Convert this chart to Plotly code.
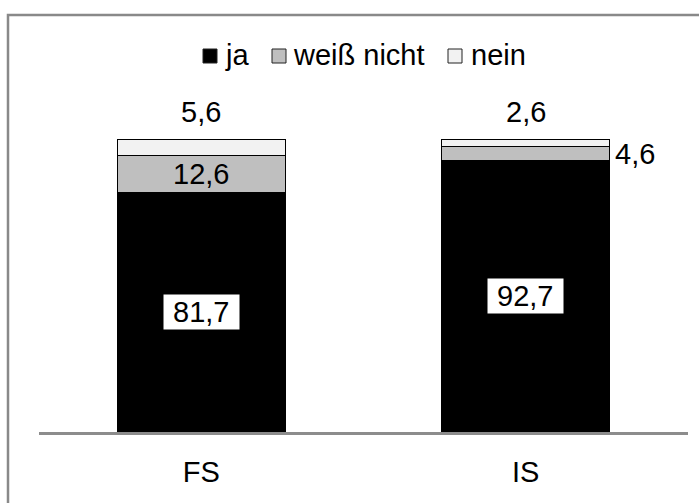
import plotly.graph_objects as go

# Stacked shares (%) per group
categories = ["FS", "IS"]
series_names = ["ja", "weiß nicht", "nein"]
ja = [81.7, 92.7]
weiss_nicht = [12.6, 4.6]
nein = [5.6, 2.6]
series_values = [ja, weiss_nicht, nein]
series_colors = ["#000000", "#bfbfbf", "#f2f2f2"]

W, H = 699, 503
ML, MR, MT, MB = 39, 11, 139, 71
PW, PH = W - ML - MR, H - MT - MB
FONT = "Liberation Sans, Arial, sans-serif"
FS = 29
BAR_W = 0.518


def fmt(v):
    return f"{v:.1f}".replace(".", ",")


def px_x(p):
    return (p - ML) / PW


def px_y(p):
    return (H - MB - p) / PH


fig = go.Figure()
for name, vals, col in zip(series_names, series_values, series_colors):
    fig.add_trace(go.Bar(
        x=categories, y=vals, name=name, width=BAR_W,
        marker=dict(color=col, line=dict(color="#000000", width=1)),
        showlegend=False, hoverinfo="skip",
    ))

annotations = []
for i, cat in enumerate(categories):
    # "ja" value in a white box at the middle of its segment
    annotations.append(dict(
        x=cat, y=ja[i] / 2, text=" " + fmt(ja[i]) + " ",
        showarrow=False, bgcolor="#ffffff", borderpad=1,
        font=dict(family=FONT, size=FS, color="#000000"),
        xanchor="center", yanchor="middle",
    ))
    # "nein" value above the stack
    total = ja[i] + weiss_nicht[i] + nein[i]
    annotations.append(dict(
        x=cat, y=total, text=fmt(nein[i]), showarrow=False,
        font=dict(family=FONT, size=FS, color="#000000"),
        xanchor="center", yanchor="middle", yshift=27,
    ))
    # "weiß nicht" value: inside when the segment is tall, else beside it
    mid = ja[i] + weiss_nicht[i] / 2
    if weiss_nicht[i] >= 8:
        annotations.append(dict(
            x=cat, y=mid, text=fmt(weiss_nicht[i]), showarrow=False,
            font=dict(family=FONT, size=FS, color="#000000"),
            xanchor="center", yanchor="middle",
        ))
    else:
        annotations.append(dict(
            x=i + BAR_W / 2, y=mid, text=fmt(weiss_nicht[i]), showarrow=False,
            font=dict(family=FONT, size=FS, color="#000000"),
            xanchor="left", yanchor="middle", xshift=3,
        ))

# Legend row: swatch + label
legend_swatch_x = [203, 272, 448]
legend_text_x = [223, 291, 469]
shapes = []
for name, col, sx, tx in zip(series_names, series_colors, legend_swatch_x, legend_text_x):
    shapes.append(dict(
        type="rect", xref="paper", yref="paper",
        x0=px_x(sx), x1=px_x(sx + 14), y0=px_y(63), y1=px_y(49),
        fillcolor=col, line=dict(color="#222222", width=1),
    ))
    annotations.append(dict(
        xref="paper", yref="paper", x=px_x(tx), y=px_y(55), text=name,
        showarrow=False, xanchor="left", yanchor="middle",
        font=dict(family=FONT, size=FS, color="#000000"),
    ))

# Outer frame
shapes.append(dict(
    type="rect", xref="paper", yref="paper",
    x0=px_x(8), x1=px_x(760), y0=px_y(560), y1=px_y(15),
    line=dict(color="#898989", width=2.5), fillcolor="rgba(0,0,0,0)",
    layer="below",
))

fig.update_layout(
    width=W, height=H,
    margin=dict(l=ML, r=MR, t=MT, b=MB, pad=0),
    barmode="stack",
    paper_bgcolor="#ffffff", plot_bgcolor="#ffffff",
    font=dict(family=FONT, size=FS, color="#000000"),
    annotations=annotations, shapes=shapes,
    xaxis=dict(
        type="category", range=[-0.5, 1.5], showgrid=False, zeroline=False,
        showline=True, linecolor="#8c8c8c", linewidth=2.5, ticks="",
        tickfont=dict(family=FONT, size=FS, color="#000000"),
        ticklabelstandoff=12,
    ),
    yaxis=dict(range=[0, 100], visible=False, showgrid=False, zeroline=False),
)

fig.write_html("out.html")
